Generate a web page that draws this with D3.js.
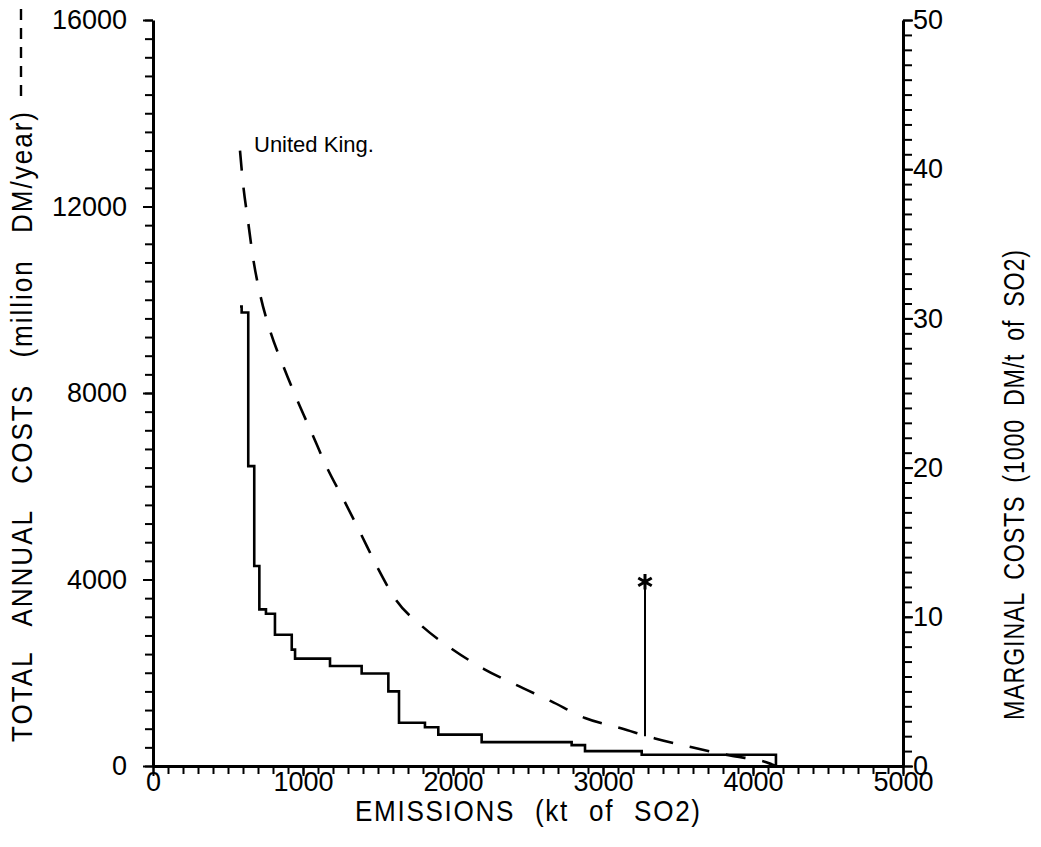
<!DOCTYPE html>
<html>
<head>
<meta charset="utf-8">
<script src="https://cdn.jsdelivr.net/npm/d3@7"></script>
<style>
  html, body { margin: 0; padding: 0; background: #fff; }
  svg { display: block; }
  .tick text { font-family: "Liberation Sans", Arial, sans-serif; font-size: 27px; fill: #000; }
  .title { font-family: "Liberation Sans", Arial, sans-serif; font-size: 29px; fill: #000; }
</style>
</head>
<body>
<svg id="chart" width="1041" height="847"></svg>
<script>
// Total annual abatement costs (million DM/year) against remaining emissions (kt SO2)
const totalEmis  = [580, 600, 633, 667, 713, 780, 867, 960, 1060, 1160, 1273, 1387, 1493,
                    1620, 1793, 1993, 2207, 2420, 2653, 2880, 3120, 3347, 3593, 3847, 4093, 4153];
const totalCost  = [13200, 12500, 11700, 10900, 10130, 9340, 8590, 7860, 7130, 6400, 5700, 4970, 4280,
                    3560, 3000, 2510, 2080, 1740, 1390, 1030, 810, 590, 400, 225, 75, 0];

// Marginal abatement cost steps (1000 DM/t SO2); each value holds from its emission level to the next
const stepEmis   = [580, 591, 635, 675, 709, 753, 813, 925, 947, 1180, 1391, 1569, 1640,
                    1813, 1902, 2191, 2791, 2880, 3258, 4153, 4153];
const stepCost   = [30.8, 30.4, 20.1, 13.4, 10.5, 10.2, 8.8, 7.8, 7.2, 6.7, 6.2, 5.0, 2.9,
                    2.6, 2.1, 1.6, 1.4, 1.0, 0.75, 0.75, 0];

// Marked reduction target: emission level, marker height and base (total cost units)
const targetEmis = [3280];
const targetTop  = [3950];
const targetBase = [640];

const xTicks      = [0, 1000, 2000, 3000, 4000, 5000];
const leftTicks   = [0, 4000, 8000, 12000, 16000];
const rightTicks  = [0, 10, 20, 30, 40, 50];
const countryName = "United King.";

const svg = d3.select("#chart");

const x  = d3.scaleLinear().domain([0, 5000]).range([153, 903]);
const yL = d3.scaleLinear().domain([0, 16000]).range([766, 20]);
const yR = d3.scaleLinear().domain([0, 50]).range([766, 20]);

function styleAxis(g, width) {
  g.select(".domain").attr("stroke", "#000").attr("stroke-width", width);
  g.selectAll(".tick line").attr("stroke", "#000").attr("stroke-width", 2);
}

// x axis: minor ticks every 100 kt, labelled every 1000
svg.append("g")
  .attr("transform", "translate(0,766)")
  .call(d3.axisBottom(x).tickValues(d3.range(0, 5001, 100)).tickSize(8).tickSizeOuter(0).tickFormat(""))
  .call(g => styleAxis(g, 3));
svg.append("g")
  .attr("transform", "translate(0,766)")
  .call(d3.axisBottom(x).tickValues(xTicks).tickSize(10).tickPadding(-4).tickSizeOuter(0).tickFormat(d3.format("d")))
  .call(g => g.select(".domain").remove())
  .call(g => g.selectAll(".tick line").attr("stroke", "#000").attr("stroke-width", 2));

// left axis: total costs
svg.append("g")
  .attr("transform", "translate(153,0)")
  .call(d3.axisLeft(yL).tickValues(d3.range(0, 16001, 400)).tickSize(8).tickSizeOuter(0).tickFormat(""))
  .call(g => styleAxis(g, 3));
svg.append("g")
  .attr("transform", "translate(153,0)")
  .call(d3.axisLeft(yL).tickValues(leftTicks).tickSize(10).tickPadding(16).tickSizeOuter(0).tickFormat(d3.format("d")))
  .call(g => g.select(".domain").remove())
  .call(g => g.selectAll(".tick line").attr("stroke", "#000").attr("stroke-width", 2));

// right axis: marginal costs
svg.append("g")
  .attr("transform", "translate(903,0)")
  .call(d3.axisRight(yR).tickValues(d3.range(0, 51, 1)).tickSize(9).tickSizeOuter(0).tickFormat(""))
  .call(g => styleAxis(g, 3));
svg.append("g")
  .attr("transform", "translate(903,0)")
  .call(d3.axisRight(yR).tickValues(rightTicks).tickSize(10).tickPadding(0).tickSizeOuter(0).tickFormat(d3.format("d")))
  .call(g => g.select(".domain").remove())
  .call(g => g.selectAll(".tick line").attr("stroke", "#000").attr("stroke-width", 2));

// total cost curve (dashed)
const totalLine = d3.line()
  .x((d, i) => x(totalEmis[i]))
  .y((d, i) => yL(totalCost[i]))
  .curve(d3.curveMonotoneX);
svg.append("path")
  .attr("d", totalLine(totalEmis))
  .attr("fill", "none")
  .attr("stroke", "#000")
  .attr("stroke-width", 2.6)
  .attr("stroke-dasharray", "20,17");

// marginal cost staircase
const stepLine = d3.line()
  .x((d, i) => x(stepEmis[i]))
  .y((d, i) => yR(stepCost[i]))
  .curve(d3.curveStepAfter);
svg.append("path")
  .attr("d", stepLine(stepEmis))
  .attr("fill", "none")
  .attr("stroke", "#000")
  .attr("stroke-width", 2.6);

// target marker with stem
svg.selectAll(".stem").data(targetEmis).enter().append("line")
  .attr("x1", d => x(d)).attr("x2", d => x(d))
  .attr("y1", (d, i) => yL(targetTop[i])).attr("y2", (d, i) => yL(targetBase[i]))
  .attr("stroke", "#000").attr("stroke-width", 2);
svg.selectAll(".star").data(targetEmis).enter().append("path")
  .attr("transform", (d, i) => `translate(${x(d)},${yL(targetTop[i])})`)
  .attr("d", d3.symbol(d3.symbolAsterisk, 170))
  .attr("fill", "none").attr("stroke", "#000").attr("stroke-width", 3);

// country label
svg.append("text")
  .attr("x", 254).attr("y", 152)
  .attr("font-family", "Liberation Sans, Arial, sans-serif")
  .attr("font-size", 22)
  .text(countryName);

// Axis title: glyphs narrowed by sx; spare length shared between letter and word gaps to span `span` px
function title(str, tx, ty, angle, span, sx) {
  const t = svg.append("text").attr("class", "title")
    .attr("transform", `translate(${tx},${ty}) rotate(${angle}) scale(${sx},1)`)
    .text(str);
  const natural = t.node().getComputedTextLength();
  const gaps = (str.match(/ /g) || []).length;
  const extra = Math.max(0, span / sx - natural);
  const ls = (extra * 0.5) / (str.length - 1);
  const ws = (extra * 0.5) / gaps;
  t.attr("letter-spacing", ls).attr("word-spacing", ws);
  return t;
}

title("EMISSIONS (kt of SO2)", 355, 821, 0, 345, 0.9);
title("TOTAL ANNUAL COSTS (million DM/year)", 32, 742, -90, 630, 0.9);
title("MARGINAL COSTS (1000 DM/t of SO2)", 1024, 720, -90, 470, 0.8);

// dashed line key beside the left title
svg.append("line")
  .attr("x1", 21).attr("x2", 21).attr("y1", 96).attr("y2", 8)
  .attr("stroke", "#000").attr("stroke-width", 2.4)
  .attr("stroke-dasharray", "11,8");
</script>
</body>
</html>
